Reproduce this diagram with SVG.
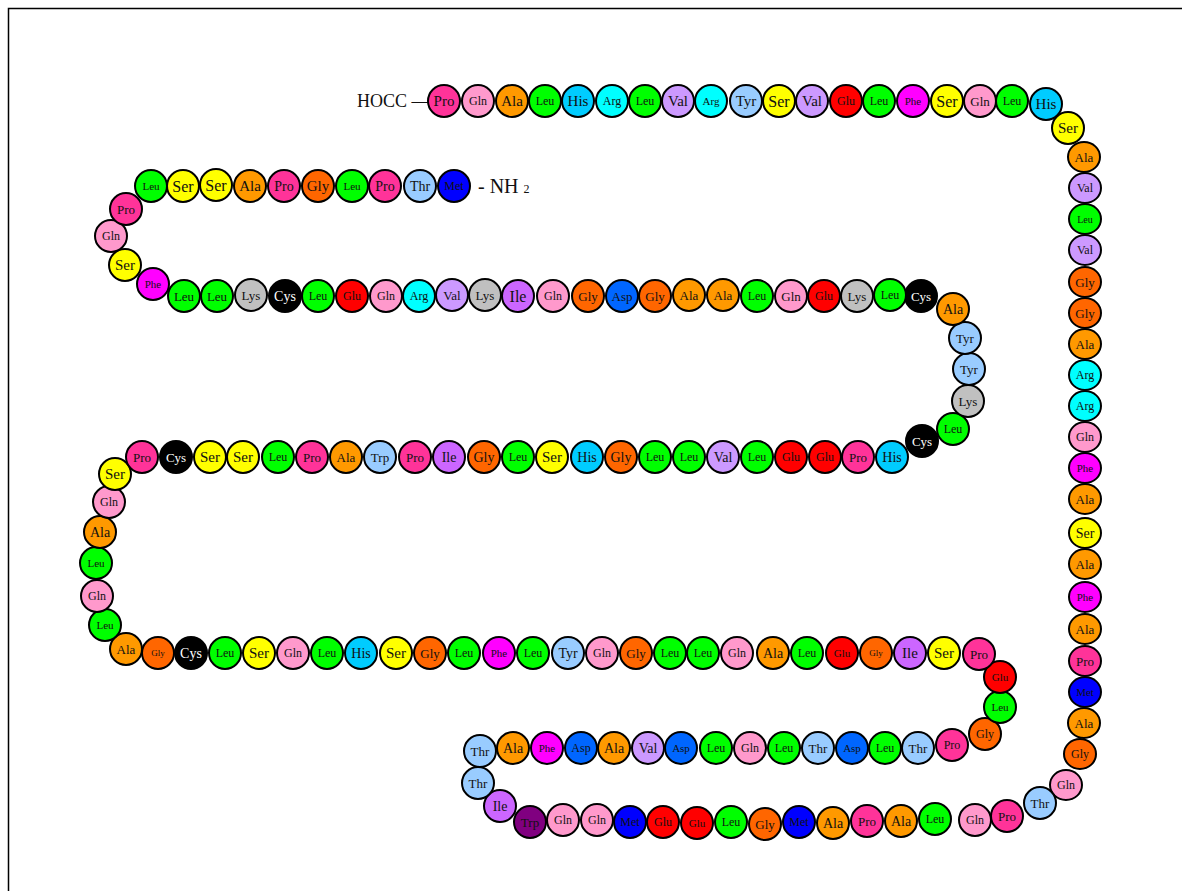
<svg xmlns="http://www.w3.org/2000/svg" width="1182" height="891" viewBox="0 0 1182 891">
<style>
text{font-family:"Liberation Serif","Times New Roman",serif;fill:#111}
.n text{text-anchor:middle;dominant-baseline:central}
.n circle,.n ellipse{stroke:#000;stroke-width:2}
.Pro>:first-child{fill:#ff3399}.Gln>:first-child{fill:#ff99cc}.Ala>:first-child{fill:#ff9900}
.Leu>:first-child{fill:#00ff00}.His>:first-child{fill:#00ccff}.Arg>:first-child{fill:#00ffff}
.Val>:first-child{fill:#cc99ff}.Tyr>:first-child{fill:#99ccff}.Ser>:first-child{fill:#ffff00}
.Glu>:first-child{fill:#ff0000}.Phe>:first-child{fill:#ff00ff}.Gly>:first-child{fill:#ff6600}
.Thr>:first-child{fill:#99ccff}.Met>:first-child{fill:#0000ff}.Lys>:first-child{fill:#c0c0c0}
.Cys>:first-child{fill:#000}.Cys text{fill:#fff}.Ile>:first-child{fill:#cc66ff}
.Asp>:first-child{fill:#0066ff}.Trp>:first-child{fill:#99ccff}.TrpD>:first-child{fill:#800080}
.f9{font-size:9px}.f10{font-size:10px}.f11{font-size:11px}.f12{font-size:12px}.f13{font-size:13px}
.f14{font-size:14px}.f15{font-size:15px}.f16{font-size:16px}
</style>
<rect x="8.5" y="8.5" width="1300" height="1000" fill="none" stroke="#000" stroke-width="1.5"/>
<text x="357" y="107" font-size="18">HOCC —</text>
<text x="478" y="193" font-size="20">- NH <tspan font-size="12">2</tspan></text>
<g id="connectors"/>
<g id="chain">
<g id="n1" class="n Pro" transform="translate(444,101)"><circle r="16"/><text class="f15">Pro</text></g>
<g id="n2" class="n Gln" transform="translate(478,101)"><circle r="16"/><text class="f12">Gln</text></g>
<g id="n3" class="n Ala" transform="translate(512,101)"><circle r="16"/><text class="f15">Ala</text></g>
<g id="n4" class="n Leu" transform="translate(545,101)"><circle r="16"/><text class="f12">Leu</text></g>
<g id="n5" class="n His" transform="translate(578,101)"><circle r="16"/><text class="f15">His</text></g>
<g id="n6" class="n Arg" transform="translate(612,101)"><circle r="16"/><text class="f12">Arg</text></g>
<g id="n7" class="n Leu" transform="translate(645,101)"><circle r="16"/><text class="f12">Leu</text></g>
<g id="n8" class="n Val" transform="translate(678,101)"><circle r="16"/><text class="f15">Val</text></g>
<g id="n9" class="n Arg" transform="translate(711,101)"><circle r="16"/><text class="f11">Arg</text></g>
<g id="n10" class="n Tyr" transform="translate(746,101)"><circle r="16"/><text class="f15">Tyr</text></g>
<g id="n11" class="n Ser" transform="translate(779,101)"><circle r="16"/><text class="f16">Ser</text></g>
<g id="n12" class="n Val" transform="translate(812,101)"><circle r="16"/><text class="f15">Val</text></g>
<g id="n13" class="n Glu" transform="translate(846,101)"><circle r="16"/><text class="f12">Glu</text></g>
<g id="n14" class="n Leu" transform="translate(879,101)"><circle r="16"/><text class="f12">Leu</text></g>
<g id="n15" class="n Phe" transform="translate(913,101)"><circle r="16"/><text class="f11">Phe</text></g>
<g id="n16" class="n Ser" transform="translate(947,101)"><circle r="16"/><text class="f16">Ser</text></g>
<g id="n17" class="n Gln" transform="translate(980,101)"><circle r="16"/><text class="f13">Gln</text></g>
<g id="n18" class="n Leu" transform="translate(1012,101)"><circle r="16"/><text class="f12">Leu</text></g>
<g id="n19" class="n His" transform="translate(1046,104)"><circle r="16"/><text class="f15">His</text></g>
<g id="n20" class="n Ser" transform="translate(1068,128)"><circle r="16"/><text class="f15">Ser</text></g>
<g id="n21" class="n Ala" transform="translate(1084,157)"><ellipse rx="16" ry="15"/><text class="f13">Ala</text></g>
<g id="n22" class="n Val" transform="translate(1085,188)"><ellipse rx="16" ry="15"/><text class="f12">Val</text></g>
<g id="n23" class="n Leu" transform="translate(1085,219)"><ellipse rx="16" ry="15"/><text class="f10">Leu</text></g>
<g id="n24" class="n Val" transform="translate(1085,250)"><ellipse rx="16" ry="15"/><text class="f12">Val</text></g>
<g id="n25" class="n Gly" transform="translate(1085,282)"><ellipse rx="16" ry="15"/><text class="f13">Gly</text></g>
<g id="n26" class="n Gly" transform="translate(1085,313)"><ellipse rx="16" ry="15"/><text class="f13">Gly</text></g>
<g id="n27" class="n Ala" transform="translate(1085,344)"><ellipse rx="16" ry="15"/><text class="f13">Ala</text></g>
<g id="n28" class="n Arg" transform="translate(1085,375)"><ellipse rx="16" ry="15"/><text class="f12">Arg</text></g>
<g id="n29" class="n Arg" transform="translate(1085,406)"><ellipse rx="16" ry="15"/><text class="f12">Arg</text></g>
<g id="n30" class="n Gln" transform="translate(1085,437)"><ellipse rx="16" ry="15"/><text class="f12">Gln</text></g>
<g id="n31" class="n Phe" transform="translate(1085,468)"><ellipse rx="16" ry="15"/><text class="f11">Phe</text></g>
<g id="n32" class="n Ala" transform="translate(1085,499)"><ellipse rx="16" ry="15"/><text class="f13">Ala</text></g>
<g id="n33" class="n Ser" transform="translate(1085,533)"><ellipse rx="16" ry="15"/><text class="f14">Ser</text></g>
<g id="n34" class="n Ala" transform="translate(1085,564)"><ellipse rx="16" ry="15"/><text class="f13">Ala</text></g>
<g id="n35" class="n Phe" transform="translate(1085,597)"><ellipse rx="16" ry="15"/><text class="f11">Phe</text></g>
<g id="n36" class="n Ala" transform="translate(1085,629)"><ellipse rx="16" ry="15"/><text class="f13">Ala</text></g>
<g id="n37" class="n Pro" transform="translate(1085,661)"><ellipse rx="16" ry="15"/><text class="f13">Pro</text></g>
<g id="n38" class="n Met" transform="translate(1085,692)"><ellipse rx="16" ry="15"/><text class="f11">Met</text></g>
<g id="n39" class="n Ala" transform="translate(1084,723)"><ellipse rx="16" ry="15"/><text class="f13">Ala</text></g>
<g id="n40" class="n Gly" transform="translate(1080,754)"><ellipse rx="16" ry="15"/><text class="f12">Gly</text></g>
<g id="n41" class="n Gln" transform="translate(1066,785)"><ellipse rx="16" ry="15"/><text class="f12">Gln</text></g>
<g id="n42" class="n Thr" transform="translate(1040,803)"><circle r="16"/><text class="f13">Thr</text></g>
<g id="n43" class="n Pro" transform="translate(1007,816)"><circle r="16"/><text class="f13">Pro</text></g>
<g id="n44" class="n Gln" transform="translate(975,820)"><circle r="16"/><text class="f12">Gln</text></g>
<g id="n45" class="n Leu" transform="translate(935,819)"><circle r="16"/><text class="f12">Leu</text></g>
<g id="n46" class="n Ala" transform="translate(901,821)"><circle r="16"/><text class="f14">Ala</text></g>
<g id="n47" class="n Pro" transform="translate(867,821)"><circle r="16"/><text class="f13">Pro</text></g>
<g id="n48" class="n Ala" transform="translate(833,823)"><circle r="16"/><text class="f14">Ala</text></g>
<g id="n49" class="n Met" transform="translate(799,822)"><circle r="16"/><text class="f12">Met</text></g>
<g id="n50" class="n Gly" transform="translate(765,824)"><circle r="16"/><text class="f13">Gly</text></g>
<g id="n51" class="n Leu" transform="translate(731,822)"><circle r="16"/><text class="f12">Leu</text></g>
<g id="n52" class="n Glu" transform="translate(697,823)"><circle r="16"/><text class="f11">Glu</text></g>
<g id="n53" class="n Glu" transform="translate(663,822)"><circle r="16"/><text class="f12">Glu</text></g>
<g id="n54" class="n Met" transform="translate(630,822)"><circle r="16"/><text class="f12">Met</text></g>
<g id="n55" class="n Gln" transform="translate(597,820)"><circle r="16"/><text class="f12">Gln</text></g>
<g id="n56" class="n Gln" transform="translate(563,820)"><circle r="16"/><text class="f12">Gln</text></g>
<g id="n57" class="n TrpD" transform="translate(530,822)"><circle r="16"/><text class="f13">Trp</text></g>
<g id="n58" class="n Ile" transform="translate(500,806)"><circle r="16"/><text class="f14">Ile</text></g>
<g id="n59" class="n Thr" transform="translate(478,783)"><circle r="16"/><text class="f13">Thr</text></g>
<g id="n60" class="n Thr" transform="translate(480,751)"><circle r="16"/><text class="f13">Thr</text></g>
<g id="n61" class="n Ala" transform="translate(513,748)"><circle r="16"/><text class="f14">Ala</text></g>
<g id="n62" class="n Phe" transform="translate(547,748)"><circle r="16"/><text class="f11">Phe</text></g>
<g id="n63" class="n Asp" transform="translate(581,748)"><circle r="16"/><text class="f12">Asp</text></g>
<g id="n64" class="n Ala" transform="translate(614,748)"><circle r="16"/><text class="f14">Ala</text></g>
<g id="n65" class="n Val" transform="translate(648,748)"><circle r="16"/><text class="f14">Val</text></g>
<g id="n66" class="n Asp" transform="translate(681,748)"><circle r="16"/><text class="f11">Asp</text></g>
<g id="n67" class="n Leu" transform="translate(716,748)"><circle r="16"/><text class="f12">Leu</text></g>
<g id="n68" class="n Gln" transform="translate(750,748)"><circle r="16"/><text class="f12">Gln</text></g>
<g id="n69" class="n Leu" transform="translate(784,748)"><circle r="16"/><text class="f12">Leu</text></g>
<g id="n70" class="n Thr" transform="translate(818,748)"><circle r="16"/><text class="f13">Thr</text></g>
<g id="n71" class="n Asp" transform="translate(852,748)"><circle r="16"/><text class="f11">Asp</text></g>
<g id="n72" class="n Leu" transform="translate(885,748)"><circle r="16"/><text class="f12">Leu</text></g>
<g id="n73" class="n Thr" transform="translate(918,748)"><circle r="16"/><text class="f13">Thr</text></g>
<g id="n74" class="n Pro" transform="translate(952,745)"><circle r="16"/><text class="f12">Pro</text></g>
<g id="n75" class="n Gly" transform="translate(985,734)"><circle r="16"/><text class="f12">Gly</text></g>
<g id="n76" class="n Leu" transform="translate(1000,707)"><circle r="16"/><text class="f11">Leu</text></g>
<g id="n77" class="n Glu" transform="translate(1000,677)"><circle r="16"/><text class="f11">Glu</text></g>
<g id="n78" class="n Pro" transform="translate(979,654)"><circle r="16"/><text class="f13">Pro</text></g>
<g id="n79" class="n Ser" transform="translate(944,653)"><circle r="16"/><text class="f15">Ser</text></g>
<g id="n80" class="n Ile" transform="translate(910,653)"><circle r="16"/><text class="f15">Ile</text></g>
<g id="n81" class="n Gly" transform="translate(876,653)"><circle r="16"/><text class="f9">Gly</text></g>
<g id="n82" class="n Glu" transform="translate(842,653)"><circle r="16"/><text class="f11">Glu</text></g>
<g id="n83" class="n Leu" transform="translate(807,653)"><circle r="16"/><text class="f12">Leu</text></g>
<g id="n84" class="n Ala" transform="translate(773,653)"><circle r="16"/><text class="f14">Ala</text></g>
<g id="n85" class="n Gln" transform="translate(737,653)"><circle r="16"/><text class="f12">Gln</text></g>
<g id="n86" class="n Leu" transform="translate(703,653)"><circle r="16"/><text class="f12">Leu</text></g>
<g id="n87" class="n Leu" transform="translate(670,653)"><circle r="16"/><text class="f12">Leu</text></g>
<g id="n88" class="n Gly" transform="translate(636,653)"><circle r="16"/><text class="f13">Gly</text></g>
<g id="n89" class="n Gln" transform="translate(602,653)"><circle r="16"/><text class="f12">Gln</text></g>
<g id="n90" class="n Tyr" transform="translate(568,653)"><circle r="16"/><text class="f14">Tyr</text></g>
<g id="n91" class="n Leu" transform="translate(533,653)"><circle r="16"/><text class="f12">Leu</text></g>
<g id="n92" class="n Phe" transform="translate(499,653)"><circle r="16"/><text class="f11">Phe</text></g>
<g id="n93" class="n Leu" transform="translate(464,653)"><circle r="16"/><text class="f12">Leu</text></g>
<g id="n94" class="n Gly" transform="translate(430,653)"><circle r="16"/><text class="f13">Gly</text></g>
<g id="n95" class="n Ser" transform="translate(396,653)"><circle r="16"/><text class="f15">Ser</text></g>
<g id="n96" class="n His" transform="translate(361,653)"><circle r="16"/><text class="f14">His</text></g>
<g id="n97" class="n Leu" transform="translate(327,653)"><circle r="16"/><text class="f12">Leu</text></g>
<g id="n98" class="n Gln" transform="translate(293,653)"><circle r="16"/><text class="f12">Gln</text></g>
<g id="n99" class="n Ser" transform="translate(259,653)"><circle r="16"/><text class="f15">Ser</text></g>
<g id="n100" class="n Leu" transform="translate(225,653)"><circle r="16"/><text class="f12">Leu</text></g>
<g id="n101" class="n Cys" transform="translate(191,653)"><circle r="16"/><text class="f14">Cys</text></g>
<g id="n102" class="n Gly" transform="translate(158,653)"><circle r="16"/><text class="f9">Gly</text></g>
<g id="n103" class="n Ala" transform="translate(126,649)"><circle r="16"/><text class="f13">Ala</text></g>
<g id="n104" class="n Leu" transform="translate(105,625)"><circle r="16"/><text class="f11">Leu</text></g>
<g id="n105" class="n Gln" transform="translate(97,596)"><circle r="16"/><text class="f12">Gln</text></g>
<g id="n106" class="n Leu" transform="translate(96,563)"><circle r="16"/><text class="f11">Leu</text></g>
<g id="n107" class="n Ala" transform="translate(100,532)"><circle r="16"/><text class="f14">Ala</text></g>
<g id="n108" class="n Gln" transform="translate(109,502)"><circle r="16"/><text class="f12">Gln</text></g>
<g id="n109" class="n Ser" transform="translate(115,474)"><circle r="16"/><text class="f15">Ser</text></g>
<g id="n110" class="n Pro" transform="translate(142,457)"><circle r="16"/><text class="f13">Pro</text></g>
<g id="n111" class="n Cys" transform="translate(176,457)"><circle r="16"/><text class="f13">Cys</text></g>
<g id="n112" class="n Ser" transform="translate(210,457)"><circle r="16"/><text class="f15">Ser</text></g>
<g id="n113" class="n Ser" transform="translate(243,457)"><circle r="16"/><text class="f15">Ser</text></g>
<g id="n114" class="n Leu" transform="translate(278,457)"><circle r="16"/><text class="f12">Leu</text></g>
<g id="n115" class="n Pro" transform="translate(312,457)"><circle r="16"/><text class="f13">Pro</text></g>
<g id="n116" class="n Ala" transform="translate(346,457)"><circle r="16"/><text class="f13">Ala</text></g>
<g id="n117" class="n Trp" transform="translate(380,457)"><circle r="16"/><text class="f13">Trp</text></g>
<g id="n118" class="n Pro" transform="translate(415,457)"><circle r="16"/><text class="f13">Pro</text></g>
<g id="n119" class="n Ile" transform="translate(449,457)"><circle r="16"/><text class="f14">Ile</text></g>
<g id="n120" class="n Gly" transform="translate(484,457)"><circle r="16"/><text class="f14">Gly</text></g>
<g id="n121" class="n Leu" transform="translate(518,457)"><circle r="16"/><text class="f12">Leu</text></g>
<g id="n122" class="n Ser" transform="translate(552,457)"><circle r="16"/><text class="f15">Ser</text></g>
<g id="n123" class="n His" transform="translate(587,457)"><circle r="16"/><text class="f14">His</text></g>
<g id="n124" class="n Gly" transform="translate(621,457)"><circle r="16"/><text class="f14">Gly</text></g>
<g id="n125" class="n Leu" transform="translate(655,457)"><circle r="16"/><text class="f12">Leu</text></g>
<g id="n126" class="n Leu" transform="translate(689,457)"><circle r="16"/><text class="f12">Leu</text></g>
<g id="n127" class="n Val" transform="translate(723,457)"><circle r="16"/><text class="f14">Val</text></g>
<g id="n128" class="n Leu" transform="translate(757,457)"><circle r="16"/><text class="f12">Leu</text></g>
<g id="n129" class="n Glu" transform="translate(791,457)"><circle r="16"/><text class="f12">Glu</text></g>
<g id="n130" class="n Glu" transform="translate(825,457)"><circle r="16"/><text class="f12">Glu</text></g>
<g id="n131" class="n Pro" transform="translate(858,457)"><circle r="16"/><text class="f13">Pro</text></g>
<g id="n132" class="n His" transform="translate(892,457)"><circle r="16"/><text class="f14">His</text></g>
<g id="n133" class="n Cys" transform="translate(922,441)"><circle r="16"/><text class="f13">Cys</text></g>
<g id="n134" class="n Leu" transform="translate(953,429)"><circle r="16"/><text class="f12">Leu</text></g>
<g id="n135" class="n Lys" transform="translate(968,401)"><circle r="16"/><text class="f13">Lys</text></g>
<g id="n136" class="n Tyr" transform="translate(969,369)"><circle r="16"/><text class="f13">Tyr</text></g>
<g id="n137" class="n Tyr" transform="translate(965,338)"><circle r="16"/><text class="f13">Tyr</text></g>
<g id="n138" class="n Ala" transform="translate(953,309)"><circle r="16"/><text class="f14">Ala</text></g>
<g id="n139" class="n Cys" transform="translate(921,296)"><circle r="16"/><text class="f13">Cys</text></g>
<g id="n140" class="n Leu" transform="translate(890,295)"><circle r="16"/><text class="f12">Leu</text></g>
<g id="n141" class="n Lys" transform="translate(857,296)"><circle r="16"/><text class="f13">Lys</text></g>
<g id="n142" class="n Glu" transform="translate(824,296)"><circle r="16"/><text class="f12">Glu</text></g>
<g id="n143" class="n Gln" transform="translate(791,296)"><circle r="16"/><text class="f13">Gln</text></g>
<g id="n144" class="n Leu" transform="translate(757,296)"><circle r="16"/><text class="f12">Leu</text></g>
<g id="n145" class="n Ala" transform="translate(723,295)"><circle r="16"/><text class="f13">Ala</text></g>
<g id="n146" class="n Ala" transform="translate(689,295)"><circle r="16"/><text class="f13">Ala</text></g>
<g id="n147" class="n Gly" transform="translate(655,296)"><circle r="16"/><text class="f13">Gly</text></g>
<g id="n148" class="n Asp" transform="translate(622,296)"><circle r="16"/><text class="f13">Asp</text></g>
<g id="n149" class="n Gly" transform="translate(588,296)"><circle r="16"/><text class="f13">Gly</text></g>
<g id="n150" class="n Gln" transform="translate(553,296)"><circle r="16"/><text class="f12">Gln</text></g>
<g id="n151" class="n Ile" transform="translate(518,296)"><circle r="16"/><text class="f16">Ile</text></g>
<g id="n152" class="n Lys" transform="translate(485,295)"><circle r="16"/><text class="f13">Lys</text></g>
<g id="n153" class="n Val" transform="translate(452,295)"><circle r="16"/><text class="f13">Val</text></g>
<g id="n154" class="n Arg" transform="translate(419,296)"><circle r="16"/><text class="f12">Arg</text></g>
<g id="n155" class="n Gln" transform="translate(386,296)"><circle r="16"/><text class="f12">Gln</text></g>
<g id="n156" class="n Glu" transform="translate(352,296)"><circle r="16"/><text class="f12">Glu</text></g>
<g id="n157" class="n Leu" transform="translate(318,296)"><circle r="16"/><text class="f12">Leu</text></g>
<g id="n158" class="n Cys" transform="translate(285,296)"><circle r="16"/><text class="f14">Cys</text></g>
<g id="n159" class="n Lys" transform="translate(251,295)"><circle r="16"/><text class="f13">Lys</text></g>
<g id="n160" class="n Leu" transform="translate(217,296)"><circle r="16"/><text class="f13">Leu</text></g>
<g id="n161" class="n Leu" transform="translate(184,296)"><circle r="16"/><text class="f13">Leu</text></g>
<g id="n162" class="n Phe" transform="translate(153,284)"><circle r="16"/><text class="f11">Phe</text></g>
<g id="n163" class="n Ser" transform="translate(125,265)"><circle r="16"/><text class="f15">Ser</text></g>
<g id="n164" class="n Gln" transform="translate(111,236)"><circle r="16"/><text class="f12">Gln</text></g>
<g id="n165" class="n Pro" transform="translate(126,209)"><circle r="16"/><text class="f13">Pro</text></g>
<g id="n166" class="n Leu" transform="translate(151,186)"><circle r="16"/><text class="f11">Leu</text></g>
<g id="n167" class="n Ser" transform="translate(183,186)"><circle r="16"/><text class="f16">Ser</text></g>
<g id="n168" class="n Ser" transform="translate(216,185)"><circle r="16"/><text class="f16">Ser</text></g>
<g id="n169" class="n Ala" transform="translate(250,186)"><circle r="16"/><text class="f15">Ala</text></g>
<g id="n170" class="n Pro" transform="translate(284,186)"><circle r="16"/><text class="f14">Pro</text></g>
<g id="n171" class="n Gly" transform="translate(318,186)"><circle r="16"/><text class="f15">Gly</text></g>
<g id="n172" class="n Leu" transform="translate(352,186)"><circle r="16"/><text class="f11">Leu</text></g>
<g id="n173" class="n Pro" transform="translate(385,186)"><circle r="16"/><text class="f14">Pro</text></g>
<g id="n174" class="n Thr" transform="translate(420,186)"><circle r="16"/><text class="f14">Thr</text></g>
<g id="n175" class="n Met" transform="translate(454,186)"><circle r="16"/><text class="f12">Met</text></g>
</g>
</svg>
